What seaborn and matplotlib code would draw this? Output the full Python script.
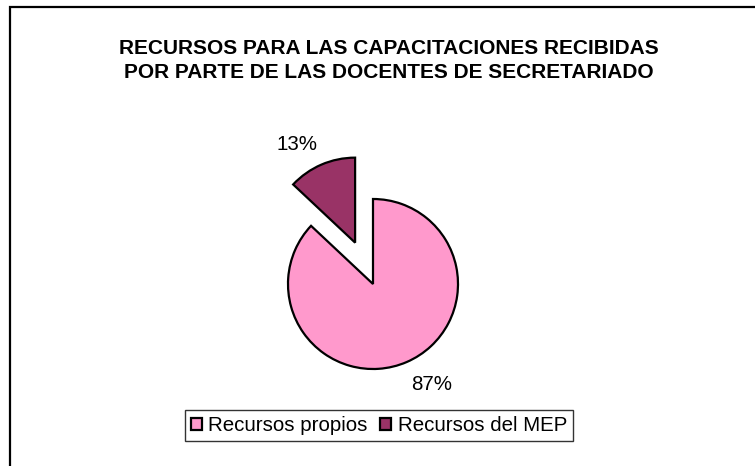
import matplotlib
matplotlib.use("Agg")
import matplotlib.pyplot as plt
import seaborn as sns
from matplotlib.patches import Rectangle

categories = ["Recursos propios", "Recursos del MEP"]
values = [87, 13]
colors = ["#FF99CC", "#993366"]
title = "RECURSOS PARA LAS CAPACITACIONES RECIBIDAS\nPOR PARTE DE LAS DOCENTES DE SECRETARIADO"

sns.set_theme(style="white")
plt.rcParams["font.family"] = ["Liberation Sans", "DejaVu Sans"]
plt.rcParams["text.color"] = "black"

fig = plt.figure(figsize=(7.55, 4.66), dpi=100)
fig.patch.set_facecolor("white")

# outer frame (left & top visible)
fig.patches.append(Rectangle((10 / 755, -0.2), 1.2, 0.985 + 0.2, transform=fig.transFigure,
                             fill=False, edgecolor="black", linewidth=1.6))

ax = fig.add_axes([203 / 755, (466 - 454) / 466, 340 / 755, 340 / 466])
wedges, texts, autotexts = ax.pie(
    values, colors=colors, startangle=90, counterclock=False,
    explode=[0, 0.53], autopct="%1.0f%%", pctdistance=1.3,
    wedgeprops=dict(edgecolor="black", linewidth=1.6),
    textprops=dict(fontsize=14.8, color="black"),
)
autotexts[0].set_position((0.694, -1.188))
autotexts[1].set_position((-0.894, 1.647))
ax.set_xlim(-2, 2)
ax.set_ylim(-2, 2)
ax.set_aspect("equal")
ax.axis("off")

fig.text(389 / 755, 1 - 60.5 / 466, title, ha="center", va="center", color="black",
         fontsize=15, fontweight="bold", linespacing=1.4)

leg = fig.legend(wedges, categories, loc="center", bbox_to_anchor=(379 / 755, 1 - 425.5 / 466),
                 ncol=2, frameon=True, fancybox=False, fontsize=14.8,
                 handlelength=0.55, handleheight=0.55, handletextpad=0.3,
                 columnspacing=0.6, borderpad=0.3, borderaxespad=0)
leg.get_frame().set_edgecolor("black")
leg.get_frame().set_linewidth(1.0)
for t in leg.get_texts():
    t.set_color("black")

fig.savefig("out.png", dpi=100, facecolor="white")
